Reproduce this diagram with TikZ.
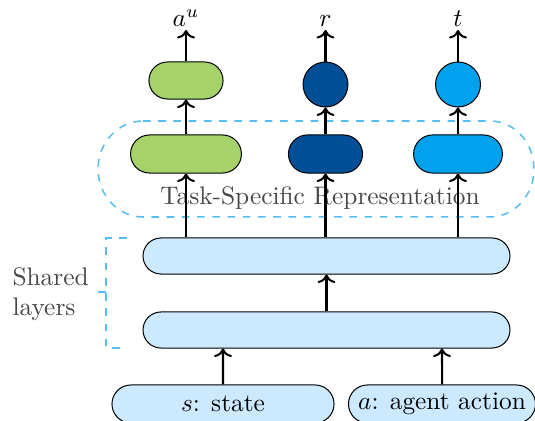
\documentclass[tikz,border=0pt]{standalone}
\usepackage{tikz}
\usetikzlibrary{arrows.meta,positioning,shapes.misc}

\definecolor{headgreen}{RGB}{165,211,106}
\definecolor{headdark}{RGB}{0,79,151}
\definecolor{headlight}{RGB}{0,162,238}
\definecolor{sharedfill}{RGB}{204,233,255}
\definecolor{dashblue}{RGB}{85,190,240}
\definecolor{labelgray}{RGB}{70,70,70}

\tikzset{
	pill/.style={draw, shape=rounded rectangle, minimum height=15pt, inner sep=0pt},
	ball/.style={draw, circle, minimum size=17.7pt, inner sep=0pt},
	layer/.style={pill, fill=sharedfill, minimum width=144.6pt, minimum height=14.2pt},
	inbox/.style={pill, fill=sharedfill},
	flow/.style={->, thick},
	groupline/.style={dashed, dashblue, semithick}
}

\begin{document}
\begin{tikzpicture}[x=0.394pt, y=-0.394pt]
\useasboundingbox (0,0) rectangle (535,421);

% task-specific group
\draw[groupline] (143,121) -- (490,121) arc[start angle=90, end angle=-90, x radius=17.3pt, y radius=18.9pt]
	-- (143,217) arc[start angle=270, end angle=90, x radius=17.7pt, y radius=18.9pt] -- cycle;
\node[labelgray] (taskrep) at (320,198) {Task-Specific Representation};

% shared layers bracket
\draw[groupline] (127,238) -- (106,238) -- (106,348) -- (127,348);
\draw[groupline] (106,292) -- (98,292);
\node[labelgray, align=left, anchor=west, inner sep=0pt] (sharedlabel) at (12,294) {Shared\\layers};

% inputs
\node[inbox, minimum width=87.5pt] (state) at (223,404) {$s$: state};
\node[inbox, minimum width=73.7pt] (action) at (442,404) {$a$: agent action};

% shared layers
\node[layer] (shared1) at (326.5,330) {};
\node[layer] (shared2) at (326.5,256) {};

% task-specific representation
\node[pill, fill=headgreen, minimum width=43.7pt] (au-rep) at (186,154) {};
\node[pill, fill=headdark, minimum width=29.2pt] (r-rep) at (325.5,154) {};
\node[pill, fill=headlight, minimum width=35pt] (t-rep) at (458,154) {};

% heads
\node[pill, fill=headgreen, minimum width=29.2pt, minimum height=14.6pt] (au-head) at (186,80.5) {};
\node[ball, fill=headdark] (r-head) at (325.5,84.5) {};
\node[ball, fill=headlight] (t-head) at (458,84.5) {};

% outputs
\node[inner sep=1pt, anchor=south] (au) at (186,30) {$a^u$};
\node[inner sep=1pt, anchor=south] (r) at (325.5,30) {$r$};
\node[inner sep=1pt, anchor=south] (t) at (458,30) {$t$};

\path[flow]
(state) edge (state |- shared1.south)
(action) edge (action |- shared1.south)
(shared1) edge (shared2)
(au-rep |- shared2.north) edge (au-rep)
(r-rep |- shared2.north) edge (r-rep)
(t-rep |- shared2.north) edge (t-rep)
(au-rep) edge (au-head)
(r-rep) edge (r-head)
(t-rep) edge (t-head)
(au-head) edge (au)
(r-head) edge (r)
(t-head) edge (t)
;
\end{tikzpicture}
\end{document}
